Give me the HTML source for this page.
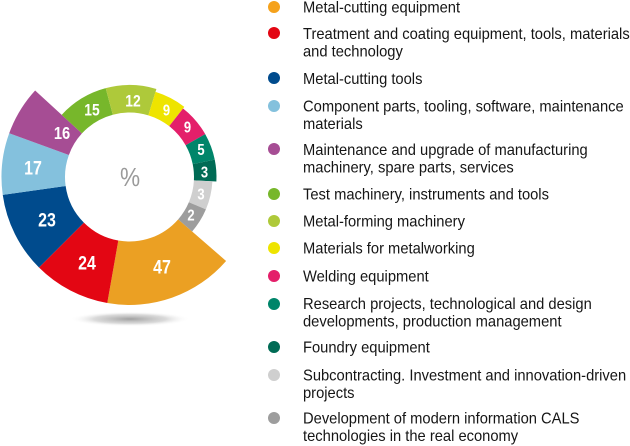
<!DOCTYPE html>
<html>
<head>
<meta charset="utf-8">
<style>
html,body{margin:0;padding:0;background:#fff;}
svg{display:block;}
.lg{font-family:"Liberation Sans",sans-serif;font-size:15.5px;fill:#151515;}
.lb{font-family:"Liberation Sans",sans-serif;font-weight:bold;fill:#fff;text-anchor:middle;}
</style>
</head>
<body>
<svg width="630" height="446" viewBox="0 0 630 446" xmlns="http://www.w3.org/2000/svg">
<defs>
<radialGradient id="sh" cx="50%" cy="50%" r="50%">
<stop offset="0%" stop-color="#8f8f8f" stop-opacity="0.85"/>
<stop offset="60%" stop-color="#b5b5b5" stop-opacity="0.5"/>
<stop offset="100%" stop-color="#ffffff" stop-opacity="0"/>
</radialGradient>
</defs>
<ellipse cx="130" cy="319" rx="60" ry="7.5" fill="url(#sh)"/>

<!-- donut segments -->
<path fill="#EBA023" d="M178.18,219.32 L226.10,260.98 A128,128 0 0 1 107.28,303.05 L118.30,240.52 A64.5,64.5 0 0 0 178.18,219.32 Z"/>
<path fill="#E30613" d="M118.30,240.52 L107.28,303.05 A128,128 0 0 1 38.99,267.51 L83.89,222.61 A64.5,64.5 0 0 0 118.30,240.52 Z"/>
<path fill="#004B8D" d="M83.89,222.61 L38.99,267.51 A128,128 0 0 1 2.74,194.82 L65.63,185.98 A64.5,64.5 0 0 0 83.89,222.61 Z"/>
<path fill="#84C1DD" d="M65.63,185.98 L2.74,194.82 A128,128 0 0 1 9.22,133.22 L68.89,154.94 A64.5,64.5 0 0 0 65.63,185.98 Z"/>
<path fill="#A64D94" d="M68.89,154.94 L9.22,133.22 A128,128 0 0 1 35.13,90.52 L81.94,133.42 A64.5,64.5 0 0 0 68.89,154.94 Z"/>
<path fill="#77B72B" d="M81.94,133.42 L61.67,114.84 A92,92 0 0 1 105.69,88.14 L112.81,114.70 A64.5,64.5 0 0 0 81.94,133.42 Z"/>
<path fill="#AEC93A" d="M112.81,114.70 L105.69,88.14 A92,92 0 0 1 156.40,89.02 L148.36,115.32 A64.5,64.5 0 0 0 112.81,114.70 Z"/>
<path fill="#EEE400" d="M148.36,115.32 L155.52,91.89 A89,89 0 0 1 184.30,106.87 L169.21,126.17 A64.5,64.5 0 0 0 148.36,115.32 Z"/>
<path fill="#E41F6A" d="M169.21,126.17 L183.07,108.44 A87,87 0 0 1 205.22,134.16 L185.64,145.24 A64.5,64.5 0 0 0 169.21,126.17 Z"/>
<path fill="#00856A" d="M185.64,145.24 L205.22,134.16 A87,87 0 0 1 214.75,159.65 L192.70,164.14 A64.5,64.5 0 0 0 185.64,145.24 Z"/>
<path fill="#006B55" d="M192.70,164.14 L214.75,159.65 A87,87 0 0 1 216.38,181.55 L193.91,180.37 A64.5,64.5 0 0 0 192.70,164.14 Z"/>
<path fill="#CFCFCF" d="M193.91,180.37 L212.38,181.34 A83,83 0 0 1 205.90,209.43 L188.87,202.20 A64.5,64.5 0 0 0 193.91,180.37 Z"/>
<path fill="#9D9D9D" d="M188.87,202.20 L205.90,209.43 A83,83 0 0 1 192.14,231.46 L178.18,219.32 A64.5,64.5 0 0 0 188.87,202.20 Z"/>

<!-- center label -->
<text transform="translate(130,186) scale(0.87,1)" x="0" y="0" text-anchor="middle" font-family="Liberation Sans, sans-serif" font-size="26" fill="#9a9a9a">%</text>

<!-- segment labels -->
<text class="lb" font-size="19" transform="translate(162,273.5) scale(0.84,1)">47</text>
<text class="lb" font-size="19" transform="translate(87,269.5) scale(0.84,1)">24</text>
<text class="lb" font-size="19" transform="translate(47,226.5) scale(0.84,1)">23</text>
<text class="lb" font-size="19" transform="translate(33,174.5) scale(0.84,1)">17</text>
<text class="lb" font-size="17.5" transform="translate(62,139) scale(0.84,1)">16</text>
<text class="lb" font-size="16.5" transform="translate(92,115.5) scale(0.84,1)">15</text>
<text class="lb" font-size="16.5" transform="translate(133,106.5) scale(0.84,1)">12</text>
<text class="lb" font-size="15.5" transform="translate(166.5,115.5) scale(0.84,1)">9</text>
<text class="lb" font-size="15.5" transform="translate(187.5,132.5) scale(0.84,1)">9</text>
<text class="lb" font-size="15.5" transform="translate(201,155) scale(0.84,1)">5</text>
<text class="lb" font-size="15.5" transform="translate(204.5,177.5) scale(0.84,1)">3</text>
<text class="lb" font-size="15.5" transform="translate(201,199.5) scale(0.84,1)">3</text>
<text class="lb" font-size="15.5" transform="translate(191,220.5) scale(0.84,1)">2</text>

<!-- legend bullets -->
<circle cx="274" cy="7" r="6" fill="#F5A21C"/>
<circle cx="274" cy="33" r="6" fill="#E30613"/>
<circle cx="274" cy="78" r="6" fill="#004B8D"/>
<circle cx="274" cy="106" r="6" fill="#84C1DD"/>
<circle cx="274" cy="149" r="6" fill="#A64D94"/>
<circle cx="274" cy="194" r="6" fill="#77B72B"/>
<circle cx="274" cy="221" r="6" fill="#AEC93A"/>
<circle cx="274" cy="248" r="6" fill="#EEE400"/>
<circle cx="274" cy="276" r="6" fill="#E41F6A"/>
<circle cx="274" cy="304" r="6" fill="#00856A"/>
<circle cx="274" cy="347" r="6" fill="#006B55"/>
<circle cx="274" cy="375" r="6" fill="#CFCFCF"/>
<circle cx="274" cy="418" r="6" fill="#9D9D9D"/>

<!-- legend text -->
<text class="lg" transform="translate(303,12.5) scale(0.95,1)">Metal-cutting equipment</text>
<text class="lg" transform="translate(303,39) scale(0.95,1)">Treatment and coating equipment, tools, materials</text>
<text class="lg" transform="translate(303,56.5) scale(0.95,1)">and technology</text>
<text class="lg" transform="translate(303,84) scale(0.95,1)">Metal-cutting tools</text>
<text class="lg" transform="translate(303,111.5) scale(0.95,1)">Component parts, tooling, software, maintenance</text>
<text class="lg" transform="translate(303,129) scale(0.95,1)">materials</text>
<text class="lg" transform="translate(303,155) scale(0.95,1)">Maintenance and upgrade of manufacturing</text>
<text class="lg" transform="translate(303,172.5) scale(0.95,1)">machinery, spare parts, services</text>
<text class="lg" transform="translate(303,199.5) scale(0.95,1)">Test machinery, instruments and tools</text>
<text class="lg" transform="translate(303,226.5) scale(0.95,1)">Metal-forming machinery</text>
<text class="lg" transform="translate(303,253.5) scale(0.95,1)">Materials for metalworking</text>
<text class="lg" transform="translate(303,281.5) scale(0.95,1)">Welding equipment</text>
<text class="lg" transform="translate(303,309) scale(0.95,1)">Research projects, technological and design</text>
<text class="lg" transform="translate(303,326.5) scale(0.95,1)">developments, production management</text>
<text class="lg" transform="translate(303,352.5) scale(0.95,1)">Foundry equipment</text>
<text class="lg" transform="translate(303,380.5) scale(0.95,1)">Subcontracting. Investment and innovation-driven</text>
<text class="lg" transform="translate(303,398) scale(0.95,1)">projects</text>
<text class="lg" transform="translate(303,423.5) scale(0.95,1)">Development of modern information CALS</text>
<text class="lg" transform="translate(303,441) scale(0.95,1)">technologies in the real economy</text>
</svg>
</body>
</html>
